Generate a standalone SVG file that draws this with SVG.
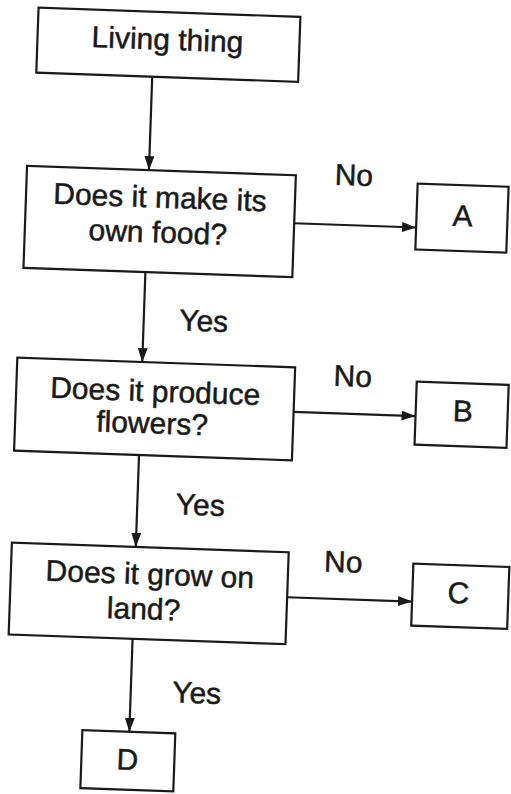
<svg xmlns="http://www.w3.org/2000/svg" width="511" height="794" viewBox="0 0 511 794">
<style>
.box{fill:#fff;stroke:#1a1a1a;stroke-width:2.2}
.t{font-family:"Liberation Sans",Arial,sans-serif;font-size:30px;fill:#1a1a1a;stroke:#1a1a1a;stroke-width:0.5;text-anchor:middle}
.c{stroke:#1a1a1a;stroke-width:2.2;fill:none;marker-end:url(#ah)}
</style>
<defs>
<marker id="ah" markerUnits="userSpaceOnUse" markerWidth="14" markerHeight="10" refX="14" refY="5" orient="auto">
<path d="M0,0 L14,5 L0,10 z" fill="#1a1a1a"/>
</marker>
</defs>
<rect width="511" height="794" fill="#fff"/>
<g transform="rotate(2 255 400)">
<g id="connectors">
<line class="c" x1="141" y1="81" x2="141" y2="174"/>
<line class="c" x1="141" y1="276" x2="141" y2="366"/>
<line class="c" x1="141" y1="459" x2="141" y2="551"/>
<line class="c" x1="141" y1="643" x2="141" y2="736"/>
<line class="c" x1="288" y1="222" x2="410" y2="222"/>
<line class="c" x1="294" y1="410.5" x2="416" y2="410.5"/>
<line class="c" x1="294" y1="596" x2="419" y2="596"/>
<text class="t" x="346" y="182">No</text>
<text class="t" x="201" y="333">Yes</text>
<text class="t" x="352" y="383">No</text>
<text class="t" x="204" y="517">Yes</text>
<text class="t" x="349" y="569">No</text>
<text class="t" x="207" y="705">Yes</text>
</g>
<g id="living">
<rect class="box" x="25" y="15.5" width="262" height="65"/>
<text class="t" x="155" y="53">Living thing</text>
</g>
<g id="q1">
<rect class="box" x="19" y="174" width="269" height="102"/>
<text class="t" x="153" y="211">Does it make its</text>
<text class="t" x="152" y="246">own food?</text>
</g>
<g id="q2">
<rect class="box" x="16" y="366" width="278" height="93"/>
<text class="t" x="155" y="405">Does it produce</text>
<text class="t" x="153" y="437">flowers?</text>
</g>
<g id="q3">
<rect class="box" x="17" y="551" width="277" height="92"/>
<text class="t" x="156" y="588">Does it grow on</text>
<text class="t" x="151" y="623">land?</text>
</g>
<g id="A">
<rect class="box" x="410" y="178" width="91" height="66"/>
<text class="t" x="456" y="219">A</text>
</g>
<g id="B">
<rect class="box" x="416" y="376" width="92" height="63"/>
<text class="t" x="463" y="414">B</text>
</g>
<g id="C">
<rect class="box" x="419" y="558" width="96" height="62"/>
<text class="t" x="465" y="596">C</text>
</g>
<g id="D">
<rect class="box" x="94" y="736" width="93" height="58"/>
<text class="t" x="140" y="774">D</text>
</g>
</g>
</svg>
